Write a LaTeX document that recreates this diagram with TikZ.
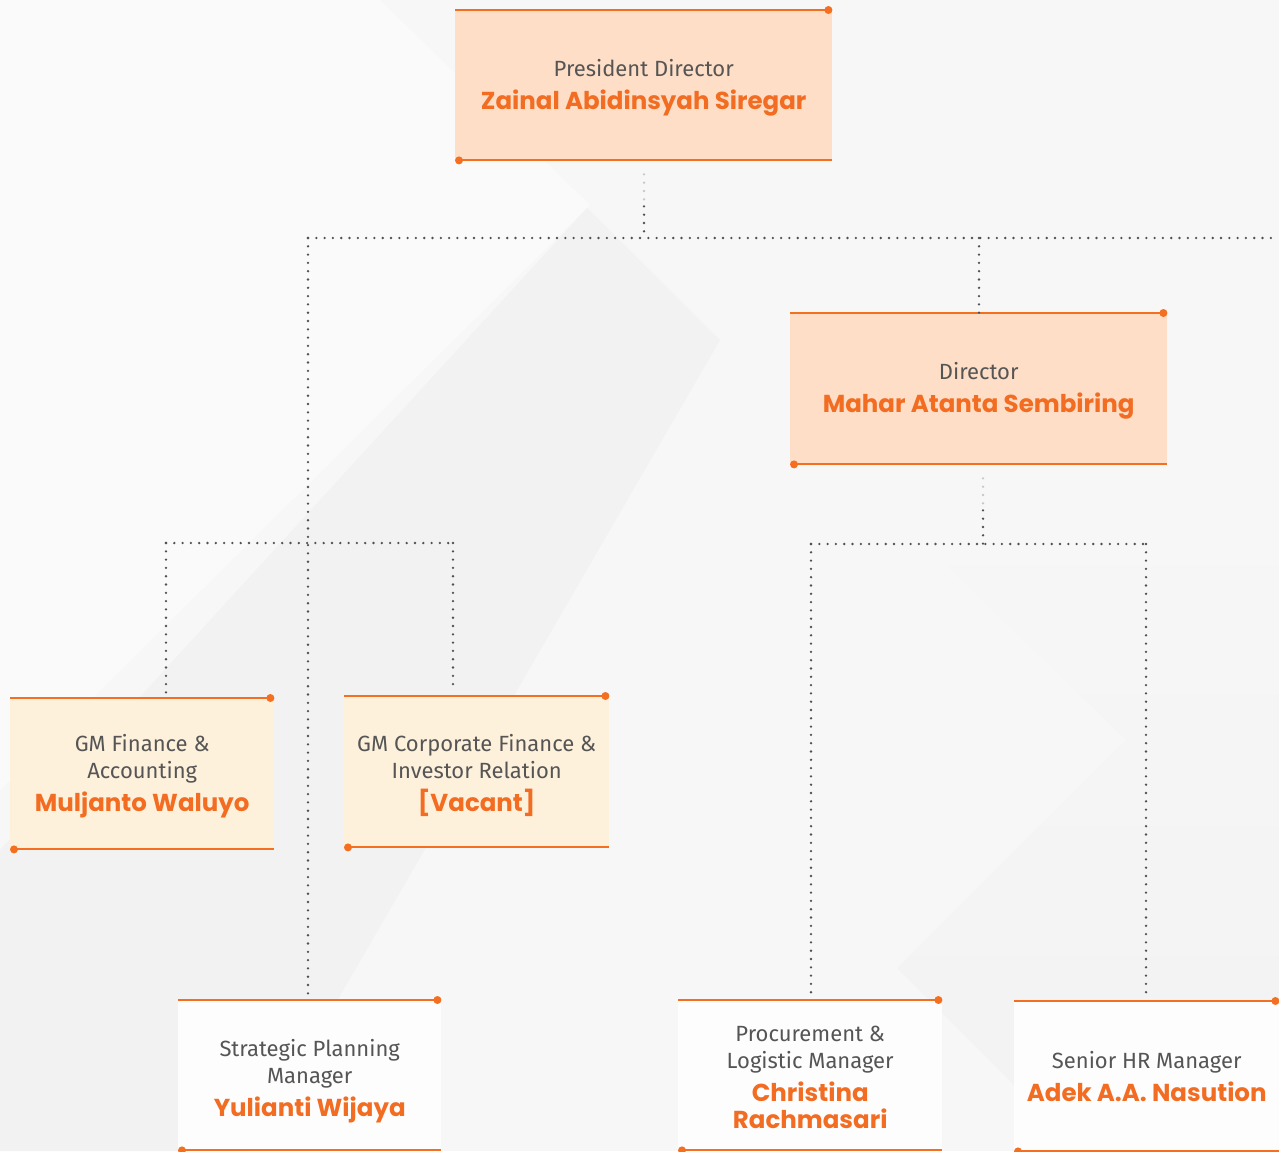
\documentclass[tikz,border=0pt]{standalone}
\usepackage{fontspec}
\setmainfont{Fira Sans}
\newfontfamily\namefam{Poppins}
\definecolor{org}{HTML}{F47020}
\definecolor{namec}{HTML}{F26C22}
\definecolor{txt}{HTML}{555555}
\definecolor{peach}{HTML}{FEDEC6}
\definecolor{cream}{HTML}{FEF1DC}
\definecolor{wbox}{HTML}{FDFDFD}
\definecolor{bgbase}{HTML}{F7F7F7}
\definecolor{bgdark}{HTML}{F2F2F3}
\definecolor{bglight}{HTML}{FAFAFA}
\definecolor{conn}{HTML}{505050}
\definecolor{connl}{HTML}{C8C8C8}
\newcommand{\nm}[1]{{\namefam\fontsize{24.5}{27}\selectfont\bfseries\color{namec}#1}}
\newcommand{\tsp}[1]{\rule{0pt}{#1pt}}
\tikzset{
  box/.style={anchor=north west, inner sep=0pt, align=center, text=txt,
    font=\fontsize{22}{27}\selectfont},
  pbox/.style={box, fill=peach},
  cbox/.style={box, fill=cream},
  wboxs/.style={box, fill=wbox},
  oline/.style={draw=org, line width=2pt},
  dotline/.style={draw=conn, line width=2.6pt, line cap=round, dash pattern=on 0pt off 8.3pt},
  dotlight/.style={dotline, draw=connl},
}
\begin{document}
\begin{tikzpicture}[x=1pt,y=-1pt]
\useasboundingbox (0,0) rectangle (1279,1151);
% background
\fill[bgbase] (0,0) rectangle (1279,1151);
\fill[bglight] (0,0) -- (380,0) -- (590,205) -- (0,790) -- cycle;
\fill[bgdark] (0,850) -- (587,208) -- (720,340) -- (250,1151) -- (0,1151) -- cycle;
\shade[top color=bgbase, bottom color=bgdark] (880,500) -- (1126,740) -- (897,968) -- (1080,1151) -- (1279,1151) -- (1279,500) -- cycle;

% boxes
\node[pbox, minimum width=377pt, minimum height=150pt] (pres) at (455,10)
  {\tsp{22}President Director\\[6pt]\nm{Zainal Abidinsyah Siregar}};
\node[pbox, minimum width=377pt, minimum height=151pt] (dir) at (790,313)
  {\tsp{22}Director\\[6pt]\nm{Mahar Atanta Sembiring}};
\node[cbox, minimum width=264pt, minimum height=151pt] (gmf) at (10,698)
  {\tsp{22}GM Finance \&\\Accounting\\[6pt]\nm{Muljanto Waluyo}};
\node[cbox, minimum width=265pt, minimum height=151pt] (gmc) at (344,696)
  {\tsp{24}GM Corporate Finance \&\\Investor Relation\\[6pt]\nm{[Vacant]}};
\node[wboxs, minimum width=263pt, minimum height=150pt] (spm) at (178,1000)
  {\tsp{30}Strategic Planning\\Manager\\[6pt]\nm{Yulianti Wijaya}};
\node[wboxs, minimum width=264pt, minimum height=150pt] (plm) at (678,1000)
  {\tsp{19}Procurement \&\\Logistic Manager\\[6pt]\nm{Christina}\\\nm{Rachmasari}};
\node[wboxs, minimum width=265pt, minimum height=150pt] (hrm) at (1014,1001)
  {Senior HR Manager\\[6pt]\nm{Adek A.A. Nasution}};

% orange box rules and dots
\foreach \n in {pres,dir,gmf,gmc,spm,plm,hrm}{
  \draw[oline] (\n.north west) -- ([xshift=-4pt]\n.north east);
  \fill[org] ([xshift=-4pt]\n.north east) circle (4pt);
  \draw[oline] ([xshift=4pt]\n.south west) -- (\n.south east);
  \fill[org] ([xshift=4pt]\n.south west) circle (4pt);
}

% junction coordinates
\coordinate (jt) at (644,238);
\coordinate (jl) at (308,238);
\coordinate (jr) at (1279,238);
\coordinate (jd) at (979,238);
\coordinate (ga) at (166,543);
\coordinate (gb) at (453,543);
\coordinate (dj) at (983,544);
\coordinate (pa) at (811,544);
\coordinate (pb) at (1146,544);

% connectors
\draw[dotlight] ([yshift=-14pt]pres.south -| jt) -- ([yshift=-40pt]pres.south -| jt);
\draw[dotline] ([yshift=-46pt]pres.south -| jt) -- (jt);
\draw[dotline] (jl) -- (jr);
\draw[dotline] (jd) -- (jd |- dir.north);
\draw[dotline] (jl) -- (jl |- spm.north);
\draw[dotline] (ga) -- (gb);
\draw[dotline] (ga) -- ([yshift=4pt]ga |- gmf.north);
\draw[dotline] (gb) -- ([yshift=4pt]gb |- gmc.north);
\draw[dotlight] ([yshift=-14pt]dj |- dir.south) -- ([yshift=-40pt]dj |- dir.south);
\draw[dotline] ([yshift=-46pt]dj |- dir.south) -- (dj);
\draw[dotline] (pa) -- (pb);
\draw[dotline] (pa) -- ([yshift=3pt]pa |- plm.north);
\draw[dotline] (pb) -- ([yshift=3pt]pb |- hrm.north);
\end{tikzpicture}
\end{document}
